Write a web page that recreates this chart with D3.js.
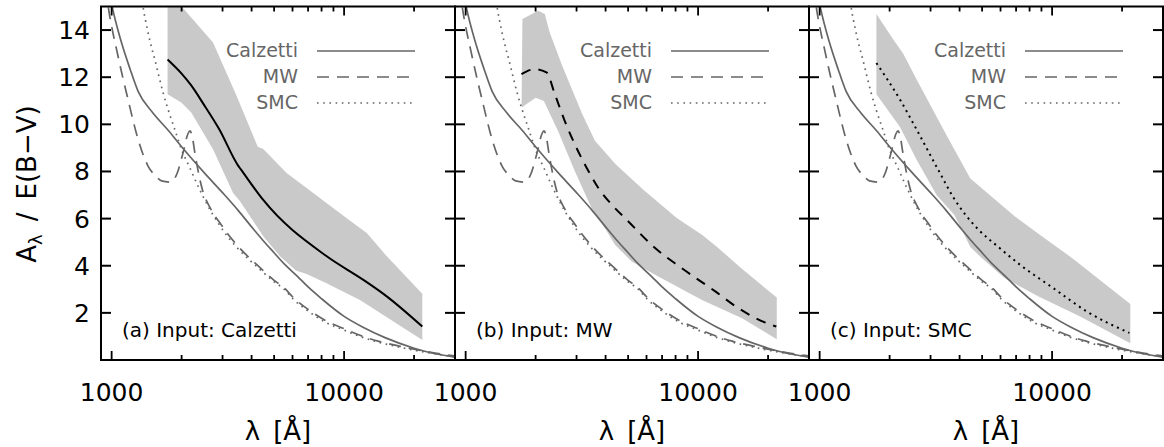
<!DOCTYPE html>
<html><head><meta charset="utf-8">
<script src="https://cdn.jsdelivr.net/npm/d3@7"></script>
<style>
html,body{margin:0;padding:0;background:#fff;}
text{font-family:"DejaVu Sans",sans-serif;}
</style></head>
<body><svg id="c" width="1164" height="447"></svg>
<script>
// ---------- data ----------
const xTickMajor = [1000, 10000];
const xTickMinor = [2000,3000,4000,5000,6000,7000,8000,9000,20000];
const xTickLabels = ["1000", "10000"];
const yTicks = [2,4,6,8,10,12,14];
const yTickLabels = ["2","4","6","8","10","12","14"];

// template curves
const calzLam = [900,950,1000,1100,1200,1300,1500,1750,2000,2500,3000,3500,4000,4500,5000,5500,6300,7000,8000,10000,12000,15000,20000,22000,30000];
const calzVal = [17.5,16.3,15.1,13.5,12.35,11.4,10.5,9.75,9.05,7.95,7.1,6.35,5.65,5.05,4.55,4.1,3.55,3.1,2.6,1.85,1.4,0.95,0.5,0.38,0.12];
const mwLam = [900,960,1065,1176,1300,1434,1550,1640,1780,1900,2030,2130,2175,2230,2280,2435,2690,2970,3120,3500,4350,5000,5500,6050,7000,8400,10000,11700,14000,17450,22000,24250,30000];
const mwVal = [17.5,15.2,12.9,11.06,9.36,8.23,7.8,7.6,7.55,7.85,8.8,9.6,9.72,9.4,8.8,7.37,6.35,5.72,5.42,4.82,3.92,3.38,3.08,2.65,2.15,1.65,1.33,1.05,0.8,0.58,0.38,0.3,0.18];
const smcLam = [1300,1364,1434,1558,1664,1748,1868,1996,2169,2355,2601,2870,3120,3500,4350,5000,5500,6050,7000,8400,10000,11700,14000,17450,22000,24250,30000];
const smcVal = [16.5,15.0,13.9,12.48,11.35,10.64,9.79,8.94,8.16,7.37,6.52,5.82,5.3,4.72,3.84,3.32,3.02,2.58,2.08,1.58,1.27,1.0,0.76,0.54,0.34,0.27,0.14];

// panel (a) input Calzetti
const aMeanLam = [1740,2000,2200,2470,2900,3500,3590,4480,8420,12100,15300,21700];
const aMeanVal = [12.75,12.15,11.65,10.9,9.8,8.25,8.1,6.8,4.4,3.4,2.69,1.42];
const aHiLam = [1740,2000,2730,3450,4250,4490,5660,10440,12520,15270,21700];
const aHiVal = [15.6,15.0,13.47,11.2,9.05,8.95,7.94,5.96,5.39,4.4,2.81];
const aLoLam = [1740,2000,2200,2730,3330,3560,4490,5300,6200,6900,8400,11700,21700];
const aLoVal = [11.28,10.92,10.5,8.94,7.09,6.75,5.25,4.4,3.8,3.65,3.26,2.55,0.85];

// panel (b) input MW
const bMeanLam = [1738,1983,2228,2420,2670,2950,3314,3717,4245,5000,6530,8500,11860,14900,19800,21700];
const bMeanVal = [12.13,12.34,12.2,11.28,10.14,9.15,8.16,7.31,6.6,5.89,4.75,3.9,2.91,2.2,1.56,1.42];
const bHiLam = [1755,2050,2190,2300,2600,3170,3600,4430,5800,8090,10390,12000,15300,21800];
const bHiVal = [14.47,14.82,14.68,13.9,12.5,10.45,9.3,8.3,7.23,6.03,5.32,4.82,3.9,2.65];
const bLoLam = [1740,2000,2170,2500,2950,3480,3970,4390,5180,6530,10390,15460,21800];
const bLoVal = [10.71,11.13,10.99,9.71,8.01,6.45,5.6,4.89,4.18,3.62,2.55,1.77,0.88];

// panel (c) input SMC
const cMeanLam = [1755,2213,2610,3290,3760,4250,4800,5900,7280,10120,14100,21500];
const cMeanVal = [12.6,11.06,9.79,7.94,6.9,6.15,5.55,4.78,4.04,3.05,2.06,1.15];
const cHiLam = [1755,2067,2290,2610,3510,4450,6900,8880,12300,21700];
const cHiVal = [14.68,13.62,13.0,11.91,9.55,7.7,6.1,5.3,4.3,2.38];
const cLoLam = [1755,2213,2610,3183,3800,4150,4450,4890,6200,8700,13200,21700];
const cLoVal = [11.28,9.9,8.51,7.0,6.15,5.4,4.8,4.4,3.5,2.7,1.85,0.71];

const panelLabels = ["(a) Input: Calzetti", "(b) Input: MW", "(c) Input: SMC"];
const legendNames = ["Calzetti", "MW", "SMC"];

// ---------- drawing ----------
const svg = d3.select("#c");
const GRAY = "#666666", BAND = "#c9c9c9";
const yTop = 6.5, yBot = 360, pw = 354;
const lefts = [101, 455, 809];
const y = d3.scaleLinear().domain([0, 15]).range([yBot, yTop]);
const zip = (a, b) => a.map((v, i) => [v, b[i]]);

const panels = [
  {mean: zip(aMeanLam, aMeanVal), hi: zip(aHiLam, aHiVal), lo: zip(aLoLam, aLoVal), dash: null},
  {mean: zip(bMeanLam, bMeanVal), hi: zip(bHiLam, bHiVal), lo: zip(bLoLam, bLoVal), dash: "10,8"},
  {mean: zip(cMeanLam, cMeanVal), hi: zip(cHiLam, cHiVal), lo: zip(cLoLam, cLoVal), dash: "2,4.2"}
];
const templates = [
  {d: zip(calzLam, calzVal), dash: null},
  {d: zip(mwLam, mwVal), dash: "12,8"},
  {d: zip(smcLam, smcVal), dash: "1.6,4.6"}
];

const defs = svg.append("defs");

panels.forEach((p, i) => {
  const L = lefts[i];
  const x = d3.scaleLog().domain([900, 30000]).range([L, L + pw]);
  const g = svg.append("g");
  defs.append("clipPath").attr("id", "clip" + i)
    .append("rect").attr("x", L).attr("y", yTop).attr("width", pw).attr("height", yBot - yTop);
  const pg = g.append("g").attr("clip-path", `url(#clip${i})`);

  const lin = d3.line().x(d => x(d[0])).y(d => y(d[1]));
  const smooth = d3.line().x(d => x(d[0])).y(d => y(d[1])).curve(d3.curveMonotoneX);

  const poly = p.hi.concat(p.lo.slice().reverse());
  pg.append("path").attr("d", lin(poly) + "Z").attr("fill", BAND).attr("stroke", "none");

  templates.forEach(t => {
    pg.append("path").attr("d", smooth(t.d)).attr("fill", "none")
      .attr("stroke", GRAY).attr("stroke-width", 1.7)
      .attr("stroke-dasharray", t.dash);
  });

  pg.append("path").attr("d", smooth(p.mean)).attr("fill", "none")
    .attr("stroke", "#000").attr("stroke-width", 2)
    .attr("stroke-dasharray", p.dash);

  g.append("rect").attr("x", L).attr("y", yTop).attr("width", pw).attr("height", yBot - yTop)
    .attr("fill", "none").attr("stroke", "#000").attr("stroke-width", 2);

  yTicks.forEach(v => {
    g.append("line").attr("x1", L).attr("x2", L + 10).attr("y1", y(v)).attr("y2", y(v))
      .attr("stroke", "#000").attr("stroke-width", 2);
    g.append("line").attr("x1", L + pw).attr("x2", L + pw - 10).attr("y1", y(v)).attr("y2", y(v))
      .attr("stroke", "#000").attr("stroke-width", 2);
  });
  const xt = (v, len) => {
    g.append("line").attr("x1", x(v)).attr("x2", x(v)).attr("y1", yBot).attr("y2", yBot - len)
      .attr("stroke", "#000").attr("stroke-width", 1.8);
    g.append("line").attr("x1", x(v)).attr("x2", x(v)).attr("y1", yTop).attr("y2", yTop + len)
      .attr("stroke", "#000").attr("stroke-width", 1.8);
  };
  xTickMajor.forEach(v => xt(v, 9));
  xTickMinor.forEach(v => xt(v, 5));

  xTickMajor.forEach((v, k) => {
    svg.append("text").attr("x", x(v)).attr("y", 401).attr("text-anchor", "middle")
      .attr("font-size", 25).attr("fill", "#000").text(xTickLabels[k]);
  });
  svg.append("text").attr("x", L + pw / 2).attr("y", 440).attr("text-anchor", "middle")
    .attr("font-size", 26).attr("fill", "#000").text("λ\u2002[Å]");

  legendNames.forEach((nm, k) => {
    const by = 57 + k * 26;
    g.append("text").attr("x", L + 197).attr("y", by).attr("text-anchor", "end")
      .attr("font-size", 19).attr("fill", GRAY).text(nm);
    g.append("line").attr("x1", L + 216).attr("x2", L + 314).attr("y1", by - 6).attr("y2", by - 6)
      .attr("stroke", GRAY).attr("stroke-width", 1.7).attr("stroke-dasharray", templates[k].dash);
  });

  g.append("text").attr("x", L + 21).attr("y", 337).attr("font-size", 20).attr("fill", "#000")
    .text(panelLabels[i]);
});

yTicks.forEach((v, k) => {
  svg.append("text").attr("x", 90).attr("y", y(v)).attr("dy", "0.36em").attr("text-anchor", "end")
    .attr("font-size", 25).attr("fill", "#000").text(yTickLabels[k]);
});

const yt = svg.append("text").attr("transform", "translate(36,184) rotate(-90)")
  .attr("text-anchor", "middle").attr("font-size", 26).attr("fill", "#000");
yt.append("tspan").text("A");
yt.append("tspan").attr("font-size", 18).attr("dy", 6).text("λ");
yt.append("tspan").attr("dy", -6).text("\u2002/\u2002E(B−V)");
</script></body></html>
